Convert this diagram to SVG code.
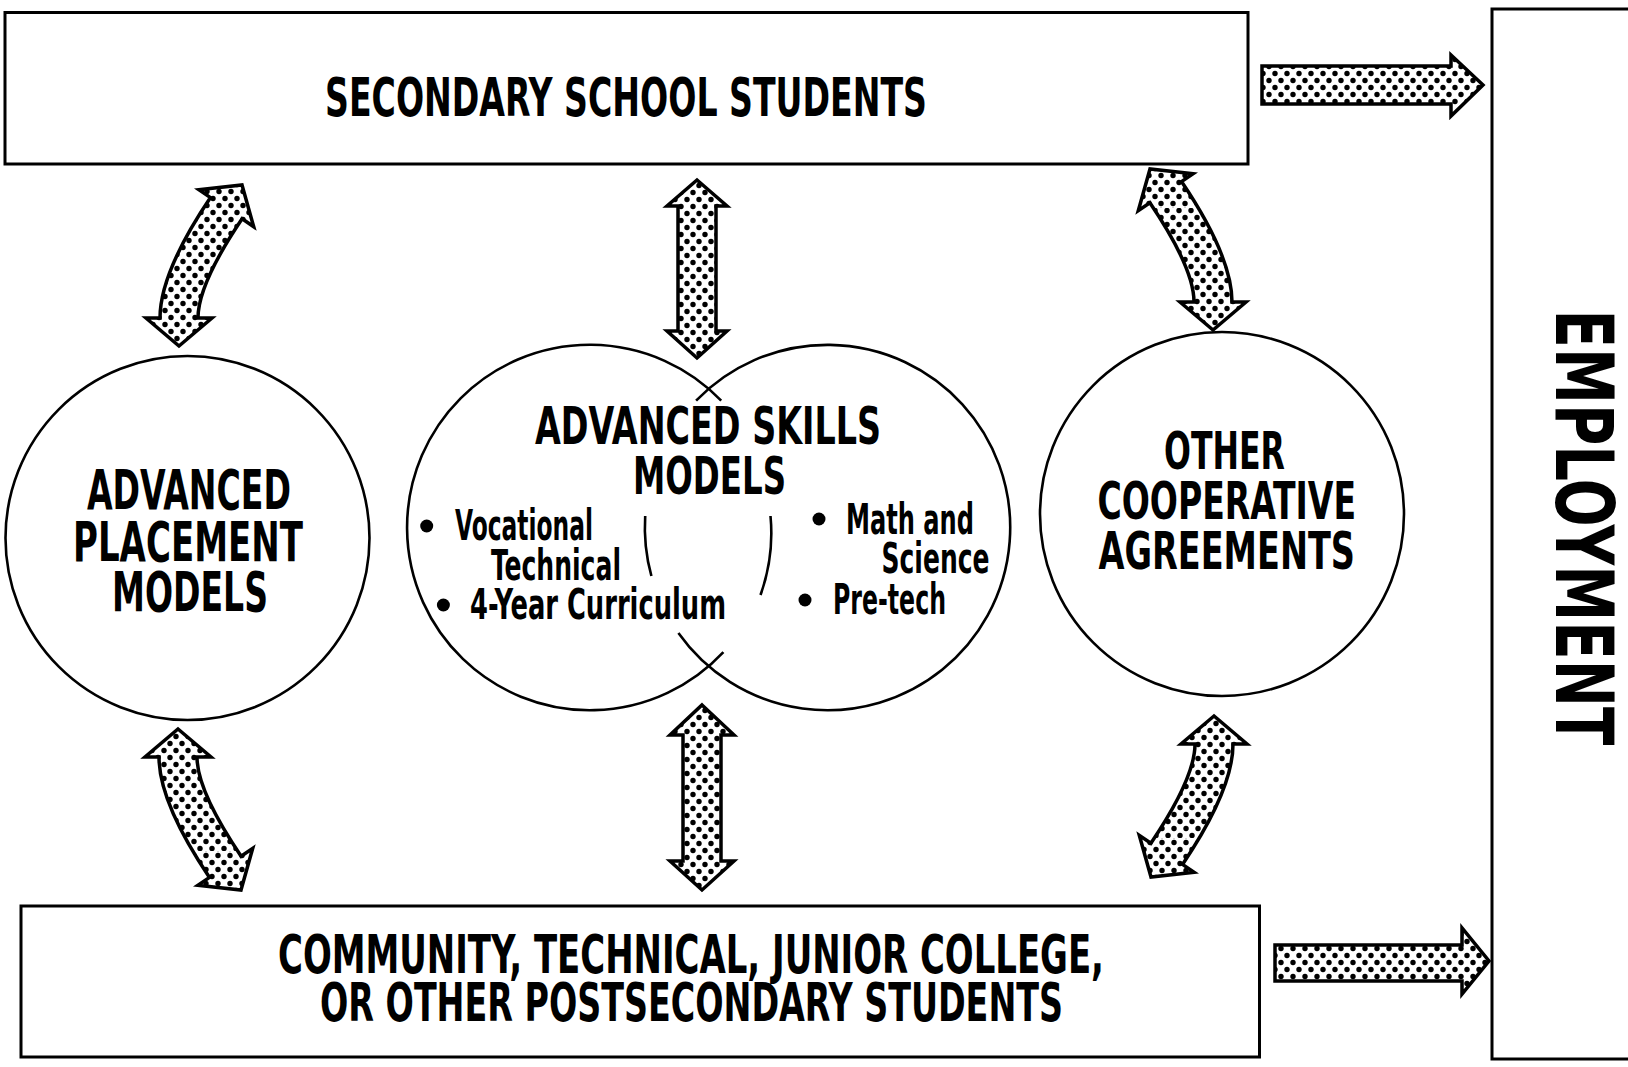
<svg xmlns="http://www.w3.org/2000/svg" width="1628" height="1067" viewBox="0 0 1628 1067">
<style>
.box{fill:#fff;stroke:#000;stroke-width:3}
.circ{fill:none;stroke:#000;stroke-width:2.6}
.arrow{fill:url(#dots);stroke:#000;stroke-width:3.5;stroke-linejoin:miter}
.t{font-family:"Liberation Sans Narrow","DejaVu Sans Condensed","Liberation Sans",sans-serif;font-weight:bold;fill:#000}
.big{font-size:53px}
.sm{font-size:43px}
</style>
<defs>
<pattern id="dots" patternUnits="userSpaceOnUse" width="12" height="14">
<rect width="12" height="14" fill="#fff"/>
<circle cx="3" cy="3.5" r="2.7" fill="#000"/>
<circle cx="9" cy="10.5" r="2.7" fill="#000"/>
</pattern>
<path id="carrow" d="M-31,81 L2,53 L-12,53 Q-12,19.2 32.1,-46.2 L43.7,-38.3 L32,-80 L-11.1,-75.3 L0.5,-67.4 Q-50,7.5 -50,53 L-64,53 Z"/>
</defs>
<rect width="1628" height="1067" fill="#fff"/>

<g id="secondary">
<rect class="box" x="5" y="12.5" width="1243" height="151.5"/>
<text class="t big" x="325" y="116" textLength="602" lengthAdjust="spacingAndGlyphs">SECONDARY SCHOOL STUDENTS</text>
</g>

<g id="postsecondary">
<rect class="box" x="21" y="906" width="1238.5" height="151"/>
<text class="t big"><tspan x="278" y="973" textLength="826" lengthAdjust="spacingAndGlyphs">COMMUNITY, TECHNICAL, JUNIOR COLLEGE,</tspan><tspan x="320" y="1020.5" textLength="743" lengthAdjust="spacingAndGlyphs">OR OTHER POSTSECONDARY STUDENTS</tspan></text>
</g>

<g id="employment">
<rect class="box" x="1492" y="9" width="200" height="1050"/>
<text class="t" font-size="80" transform="translate(1556,309.4) rotate(90)" x="0" y="0" textLength="436" lengthAdjust="spacingAndGlyphs">EMPLOYMENT</text>
</g>

<g id="advanced-placement">
<circle class="circ" cx="187.5" cy="538" r="182"/>
<text class="t" font-size="55"><tspan x="87" y="509" textLength="204" lengthAdjust="spacingAndGlyphs">ADVANCED</tspan><tspan x="73" y="561" textLength="230" lengthAdjust="spacingAndGlyphs">PLACEMENT</tspan><tspan x="112" y="610.5" textLength="156" lengthAdjust="spacingAndGlyphs">MODELS</tspan></text>
</g>

<g id="advanced-skills">
<path class="circ" d="M723.4,652.1 A182.7,182.7 0 1 1 721.2,400.6"/>
<path class="circ" d="M770.5,516 A182.7,182.7 0 0 1 760.5,595"/>
<path class="circ" d="M696.1,400.6 A182.7,182.7 0 1 1 678.4,633.1"/>
<path class="circ" d="M645.2,516 A182.7,182.7 0 0 0 651.4,576"/>
<text class="t" font-size="52"><tspan x="535" y="444" textLength="346" lengthAdjust="spacingAndGlyphs">ADVANCED SKILLS</tspan><tspan x="633" y="494" textLength="153" lengthAdjust="spacingAndGlyphs">MODELS</tspan></text>
<circle cx="426.7" cy="526" r="6.5"/>
<circle cx="443.4" cy="605" r="6.5"/>
<text class="t sm"><tspan x="455" y="540" textLength="138" lengthAdjust="spacingAndGlyphs">Vocational</tspan><tspan x="491" y="579.5" textLength="130" lengthAdjust="spacingAndGlyphs">Technical</tspan><tspan x="470" y="619" textLength="256" lengthAdjust="spacingAndGlyphs">4-Year Curriculum</tspan></text>
<circle cx="819" cy="519" r="6.5"/>
<circle cx="805" cy="600" r="6.5"/>
<text class="t sm"><tspan x="846" y="534" textLength="128" lengthAdjust="spacingAndGlyphs">Math and</tspan><tspan x="881.5" y="573" textLength="108" lengthAdjust="spacingAndGlyphs">Science</tspan><tspan x="833" y="614" textLength="113" lengthAdjust="spacingAndGlyphs">Pre-tech</tspan></text>
</g>

<g id="other-cooperative">
<circle class="circ" cx="1222" cy="514" r="182"/>
<text class="t" font-size="52"><tspan x="1164" y="469" textLength="121" lengthAdjust="spacingAndGlyphs">OTHER</tspan><tspan x="1097.5" y="519" textLength="258.5" lengthAdjust="spacingAndGlyphs">COOPERATIVE</tspan><tspan x="1098.5" y="569" textLength="256.5" lengthAdjust="spacingAndGlyphs">AGREEMENTS</tspan></text>
</g>

<g id="connectors">
<use href="#carrow" class="arrow" transform="translate(210,265)"/>
<use href="#carrow" class="arrow" transform="translate(1182,249) scale(-1,1)"/>
<use href="#carrow" class="arrow" transform="translate(209,810) scale(1,-1)"/>
<use href="#carrow" class="arrow" transform="translate(1183,797) scale(-1,-1)"/>
<polygon class="arrow" points="697,180 727,206 716,206 716,331 727,331 697,358 667,331 678,331 678,206 667,206"/>
<polygon class="arrow" points="702,705 734,735 721,735 721,861 734,861 702,890 670,861 683,861 683,735 670,735"/>
<polygon class="arrow" points="1262,66 1451,66 1451,55 1483,85 1451,116 1451,104 1262,104"/>
<polygon class="arrow" points="1275,945 1462,945 1462,928 1489,961 1462,994 1462,981 1275,981"/>
</g>
</svg>
